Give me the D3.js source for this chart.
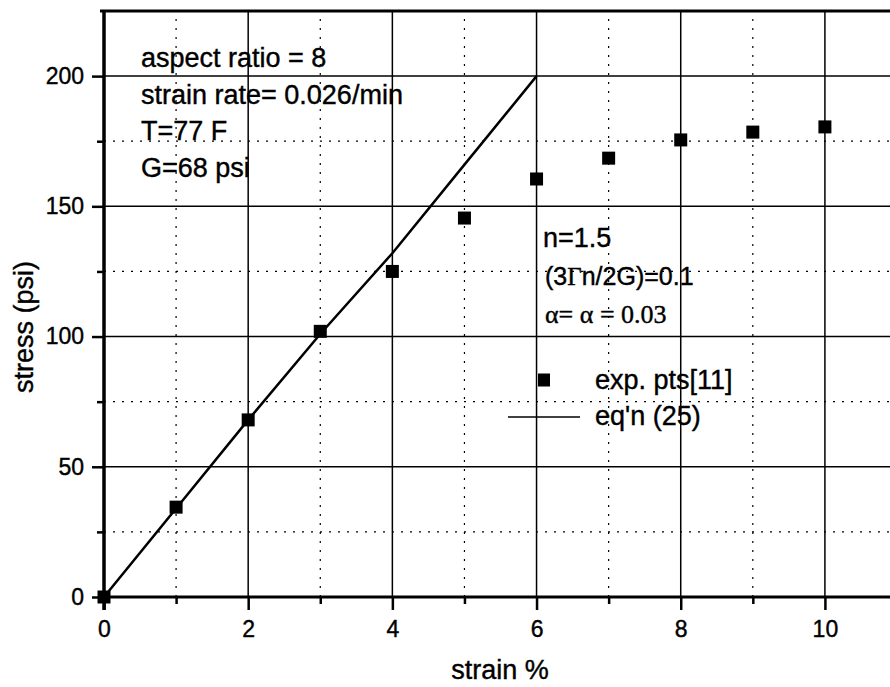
<!DOCTYPE html>
<html>
<head>
<meta charset="utf-8">
<script src="https://cdn.jsdelivr.net/npm/d3@7"></script>
<style>
  body { margin: 0; background: #fff; }
  text { font-family: "Liberation Sans", Arial, sans-serif; fill: #000; stroke: #000; stroke-width: 0.4px; }
</style>
</head>
<body>
<div id="chart"></div>
<script>
// experimental points
var strain = [0, 1, 2, 3, 4, 5, 6, 7, 8, 9, 10];
var stress = [0, 34.5, 68, 102, 125, 145.5, 160.5, 168.5, 175.5, 178.5, 180.5];

// eq'n (25) curve
var eqStrain = [0, 1, 2, 3, 4, 5, 6];
var eqStress = [0, 34, 68, 101, 132, 166, 200];

var xMajor = [0, 2, 4, 6, 8, 10];
var xMinor = [1, 3, 5, 7, 9];
var yMajor = [0, 50, 100, 150, 200];
var yMinor = [25, 75, 125, 175];

var notes = ["aspect ratio = 8", "strain rate= 0.026/min", "T=77 F", "G=68 psi"];
var legendNames = ["exp. pts[11]", "eq'n (25)"];

(function() {
    var width = 890, height = 687;

    var svg = d3.select("#chart")
        .append("svg")
        .attr("width", width)
        .attr("height", height)

    var x = d3.scaleLinear().domain([0, 11]).range([104, 897])
    var y = d3.scaleLinear().domain([0, 225]).range([597, 11])

    // dotted minor grid
    svg.selectAll(".vminor")
        .data(xMinor).enter()
        .append("line")
        .attr("x1", d => x(d)).attr("x2", d => x(d))
        .attr("y1", y(0)).attr("y2", y(225))
        .attr("stroke", "#000").attr("stroke-width", 1.2)
        .attr("stroke-dasharray", "2,7")
    svg.selectAll(".hminor")
        .data(yMinor).enter()
        .append("line")
        .attr("y1", d => y(d)).attr("y2", d => y(d))
        .attr("x1", x(0)).attr("x2", width)
        .attr("stroke", "#000").attr("stroke-width", 1.2)
        .attr("stroke-dasharray", "2,7")

    // solid major grid
    svg.selectAll(".vmajor")
        .data(xMajor.filter(d => d > 0)).enter()
        .append("line")
        .attr("x1", d => x(d)).attr("x2", d => x(d))
        .attr("y1", y(0)).attr("y2", y(225))
        .attr("stroke", "#000").attr("stroke-width", 1.5)
    svg.selectAll(".hmajor")
        .data(yMajor.filter(d => d > 0)).enter()
        .append("line")
        .attr("y1", d => y(d)).attr("y2", d => y(d))
        .attr("x1", x(0)).attr("x2", width)
        .attr("stroke", "#000").attr("stroke-width", 1.5)

    // axes
    var xAxis = d3.axisBottom(x).tickValues(xMajor).tickSize(13).tickPadding(11)
    var xAxisMinor = d3.axisBottom(x).tickValues(xMinor).tickSize(7).tickFormat("")
    var yAxis = d3.axisLeft(y).tickValues(yMajor).tickSize(12).tickPadding(8)
    var yAxisMinor = d3.axisLeft(y).tickValues(yMinor).tickSize(7).tickFormat("")

    function styleAxis(g) {
        g.select(".domain").remove()
        g.selectAll("line").attr("stroke", "#000").attr("stroke-width", 2.5)
        g.selectAll("text").style("font-size", "23px").attr("fill", "#000")
    }

    svg.append("g").attr("transform", "translate(0," + y(0) + ")").call(xAxis).call(styleAxis)
    svg.append("g").attr("transform", "translate(0," + y(0) + ")").call(xAxisMinor).call(styleAxis)
    svg.append("g").attr("transform", "translate(" + x(0) + ",0)").call(yAxis).call(styleAxis)
    svg.append("g").attr("transform", "translate(" + x(0) + ",0)").call(yAxisMinor).call(styleAxis)

    // frame lines
    svg.append("line").attr("x1", x(0)).attr("x2", width).attr("y1", y(0)).attr("y2", y(0))
        .attr("stroke", "#000").attr("stroke-width", 3)
    svg.append("line").attr("x1", x(0) - 4).attr("x2", width).attr("y1", y(225)).attr("y2", y(225))
        .attr("stroke", "#000").attr("stroke-width", 3)
    svg.append("line").attr("x1", x(0)).attr("x2", x(0)).attr("y1", y(225) - 1).attr("y2", y(0) + 13)
        .attr("stroke", "#000").attr("stroke-width", 3.5)

    // model line
    var line = d3.line()
        .x(function(d, i) { return x(eqStrain[i]) })
        .y(function(d) { return y(d) })
    svg.append("path")
        .datum(eqStress)
        .attr("d", line)
        .attr("fill", "none")
        .attr("stroke", "#000")
        .attr("stroke-width", 2.5)

    // experimental squares
    var s = 13
    svg.selectAll(".pt")
        .data(stress).enter()
        .append("rect")
        .attr("class", "pt")
        .attr("x", function(d, i) { return x(strain[i]) - s / 2 })
        .attr("y", function(d) { return y(d) - s / 2 })
        .attr("width", s).attr("height", s)
        .attr("fill", "#000")

    function label(txt, px, py, size, family) {
        return svg.append("text")
            .attr("x", px).attr("y", py)
            .style("font-size", size + "px")
            .style("font-family", family || null)
            .text(txt)
    }

    notes.forEach(function(t, i) {
        label(t, 141, 67 + i * 36.7, 27)
    })

    label("n=1.5", 543, 247, 27)
    var g = label("(3", 545, 285, 25)
    g.append("tspan").style("font-family", "Liberation Serif, serif").text("\u0393")
    g.append("tspan").text("n/2G)=0.1")
    label("\u03b1= \u03b1 = 0.03", 545, 323, 26, "Liberation Serif, serif")

    // legend
    svg.append("rect")
        .attr("x", 544 - 6).attr("y", 380 - 6.5)
        .attr("width", 12).attr("height", 13)
        .attr("fill", "#000")
    label(legendNames[0], 595, 389, 27)
    svg.append("line")
        .attr("x1", 508).attr("x2", 580).attr("y1", 417).attr("y2", 417)
        .attr("stroke", "#000").attr("stroke-width", 1.5)
    label(legendNames[1], 595, 425, 27)

    // axis titles
    svg.append("text")
        .attr("x", 500).attr("y", 679)
        .attr("text-anchor", "middle")
        .style("font-size", "27px")
        .text("strain %")
    svg.append("text")
        .attr("transform", "translate(33,327) rotate(-90)")
        .attr("text-anchor", "middle")
        .style("font-size", "27px")
        .text("stress (psi)")
})();
</script>
</body>
</html>
